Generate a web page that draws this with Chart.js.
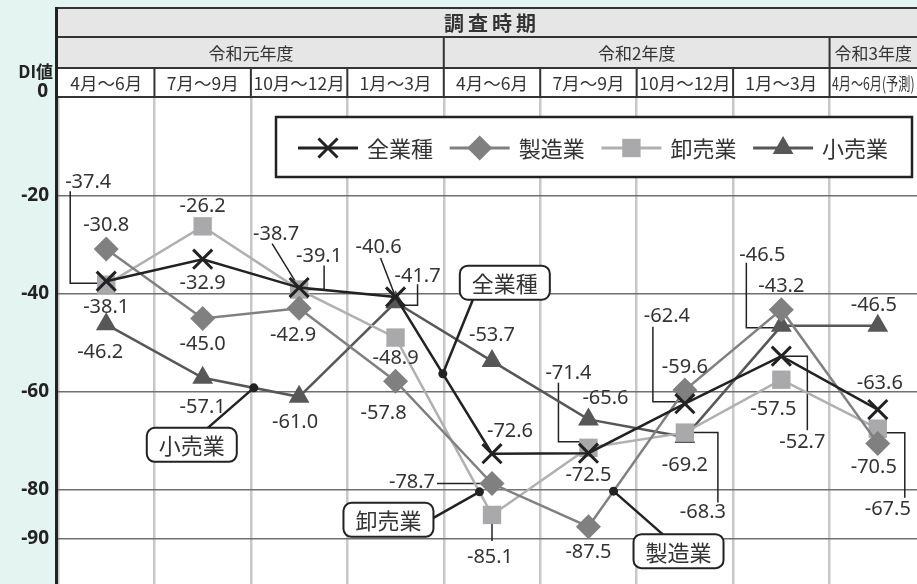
<!DOCTYPE html>
<html lang="ja">
<head>
<meta charset="utf-8">
<title>DI値の推移</title>
<script src="https://cdn.jsdelivr.net/npm/chart.js@4.4.0/dist/chart.umd.min.js"></script>
<style>
  html, body { margin: 0; padding: 0; background: #e3f4f1; overflow: hidden; }
  #mycanvas { display: block; width: 926px; height: 584px; }
</style>
</head>
<body>
<canvas id="mycanvas" width="926" height="584"></canvas>
<script>
// --- data ---
var quarters = ['4月～6月', '7月～9月', '10月～12月', '1月～3月', '4月～6月', '7月～9月', '10月～12月', '1月～3月', '4月～6月(予測)'];
var fiscalYears = ['令和元年度', '令和2年度', '令和3年度'];
var fiscalSpans = [4, 4, 1];
var headerTitle = '調査時期';
var seriesNames = ['全業種', '製造業', '卸売業', '小売業'];
var allIndustries = [-37.4, -32.9, -38.7, -40.6, -72.6, -72.5, -62.4, -52.7, -63.6];
var manufacturing = [-30.8, -45.0, -42.9, -57.8, -78.7, -87.5, -59.6, -43.2, -70.5];
var wholesale     = [-38.1, -26.2, -39.1, -48.9, -85.1, -71.4, -68.3, -57.5, -67.5];
var retail        = [-46.2, -57.1, -61.0, -41.7, -53.7, -65.6, -69.2, -46.5, -46.5];
var yTicks = [0, -20, -40, -60, -80, -90];

var JP = '"Noto Sans CJK JP", "Noto Sans", sans-serif';
var NUM = '"Noto Sans", "Noto Sans CJK JP", sans-serif';
var visibleRight = 917; // the window cuts the last column

// label placement: [series, index, dx, dy, leader polyline (offsets from the point)]
var labelLayout = [
  [0, 0, -18, -99, [[-36, -90], [-36, 2], [0, 2]]],
  [2, 0, 0, 23], [1, 0, 0, -24], [3, 0, -6, 28],
  [2, 1, 0, -20], [0, 1, 0, 24], [1, 1, 0, 26], [3, 1, 0, 30],
  [0, 2, -23, -53, [[-27, -44], [0, 0]]],
  [2, 2, 20, -33, [[25, -24], [25, 0], [0, 0]]],
  [1, 2, -6, 27], [3, 2, -4, 25],
  [0, 3, -17, -50, [[-15, -39], [0, 0]]],
  [3, 3, 22, -26, [[22, -18], [22, 3], [0, 3]]],
  [2, 3, 0, 21], [1, 3, -12, 32],
  [3, 4, 0, -26], [0, 4, 18, -22],
  [1, 4, -80, -1, [[-55, 0], [0, 0]]],
  [2, 4, -2, 42, [[0, 0], [0, 26]]],
  [2, 5, -20, -75, [[-30, -65], [-30, -6], [0, -6]]],
  [3, 5, 17, -21], [0, 5, 0, 22], [1, 5, 0, 26],
  [0, 6, -18, -87, [[-32, -77], [-32, -2], [0, -2]]],
  [1, 6, 0, -23], [3, 6, 0, 28],
  [2, 6, 18, 80, [[0, 0], [33, 0], [33, 70]]],
  [3, 7, -19, -71, [[-35, -63], [-35, 2], [0, 2]]],
  [1, 7, 0, -23],
  [0, 7, 21, 86, [[0, 0], [26, 0], [26, 74]]],
  [2, 7, -8, 30],
  [3, 8, -4, -21], [0, 8, 2, -26], [1, 8, -4, 24],
  [2, 8, 10, 81, [[0, 4], [27, 4], [27, 69]]]
];

// callouts: [series, index, fraction toward next point, box dx, box dy, leader end dx, dy (from box centre)]
var callouts = [
  [0, 3, 0.49, 62, -91, -32, 17],
  [3, 1, 0.53, -62, 57, 16, -17],
  [2, 3, 0.87, -91, 28, 45, -2],
  [1, 5, 0.26, 65, 60, -16, -17]
];

function drawMarker(c, style, x, y, r) {
  c.beginPath();
  if (style === 'crossRot') {
    var o = r * Math.SQRT1_2;
    c.moveTo(x - o, y - o); c.lineTo(x + o, y + o);
    c.moveTo(x - o, y + o); c.lineTo(x + o, y - o);
    c.stroke();
    return;
  }
  if (style === 'rectRot') {
    c.moveTo(x - r, y); c.lineTo(x, y - r); c.lineTo(x + r, y); c.lineTo(x, y + r);
  } else if (style === 'rect') {
    var s = r * Math.SQRT1_2;
    c.rect(x - s, y - s, 2 * s, 2 * s);
  } else if (style === 'triangle') {
    c.moveTo(x, y - r);
    c.lineTo(x + r * Math.sin(2 * Math.PI / 3), y - r * Math.cos(2 * Math.PI / 3));
    c.lineTo(x + r * Math.sin(4 * Math.PI / 3), y - r * Math.cos(4 * Math.PI / 3));
  }
  c.closePath();
  c.fill();
}

function pointPos(chart, s, i) {
  var p = chart.getDatasetMeta(s).data[i];
  return { x: p.x, y: p.y };
}

var decor = {
  id: 'decor',
  beforeDraw: function (chart) {
    var c = chart.ctx, a = chart.chartArea, xs = chart.scales.x;
    var n = quarters.length, colW = (a.right - a.left) / n;
    function edge(i) { return Math.min(xs.getPixelForValue(i - 0.5), visibleRight); }
    var r0 = 8, r1 = 37, r2 = 68, r3 = a.top - 1;
    c.save();
    c.fillStyle = '#e3f4f1';
    c.fillRect(0, 0, chart.width, chart.height);
    c.fillStyle = '#ffffff';
    c.fillRect(a.left, a.top, a.right - a.left, a.bottom - a.top);
    c.fillStyle = '#e6e6e6';
    c.fillRect(a.left, r0, a.right - a.left, r2 - r0);
    c.fillStyle = '#ffffff';
    c.fillRect(a.left, r2, a.right - a.left, r3 - r2);

    // title row
    c.fillStyle = '#333';
    c.textBaseline = 'middle';
    c.textAlign = 'center';
    c.font = 'bold 20px ' + JP;
    var mid = (a.left + a.right) / 2 - 2;
    for (var k = 0; k < headerTitle.length; k++) {
      c.fillText(headerTitle[k], mid + (k - 1.5) * 24, (r0 + r1) / 2 + 1);
    }
    // fiscal year row
    c.font = '17px ' + JP;
    var start = 0;
    for (var f = 0; f < fiscalYears.length; f++) {
      var l = edge(start), r = edge(start + fiscalSpans[f]);
      c.fillText(fiscalYears[f], (l + r) / 2, (r1 + r2) / 2 + 1, r - l - 4);
      start += fiscalSpans[f];
    }
    // quarter row
    c.font = '17.5px ' + JP;
    for (var q = 0; q < n; q++) {
      var ql = edge(q), qr = edge(q + 1);
      c.fillText(quarters[q], (ql + qr) / 2, (r2 + r3) / 2 + 1, Math.min(colW, qr - ql) - 5);
    }

    // borders
    c.strokeStyle = '#333';
    c.lineWidth = 2;
    c.beginPath();
    [r0, r1, r2, r3].forEach(function (yy) { c.moveTo(a.left - 2, yy); c.lineTo(a.right, yy); });
    for (var b = 1; b < n; b++) { c.moveTo(edge(b), r2); c.lineTo(edge(b), r3); }
    var acc = 0;
    for (var g = 0; g < fiscalSpans.length - 1; g++) {
      acc += fiscalSpans[g];
      c.moveTo(edge(acc), r1); c.lineTo(edge(acc), r2);
    }
    c.stroke();

    // axis title and zero label
    c.fillStyle = '#222';
    c.textAlign = 'right';
    c.font = 'bold 17px ' + JP;
    c.fillText('DI値', 53, 72);
    c.font = 'bold 19px ' + NUM;
    c.fillText('0', 48, 92);
    c.restore();
  },
  beforeDatasetsDraw: function (chart) {
    var c = chart.ctx;
    c.save();
    c.strokeStyle = '#222';
    c.lineWidth = 1.5;
    labelLayout.forEach(function (L) {
      if (!L[4]) return;
      var p = pointPos(chart, L[0], L[1]);
      c.beginPath();
      L[4].forEach(function (o, j) {
        if (j === 0) c.moveTo(p.x + o[0], p.y + o[1]); else c.lineTo(p.x + o[0], p.y + o[1]);
      });
      c.stroke();
    });
    c.restore();
  },
  afterDatasetsDraw: function (chart) {
    var c = chart.ctx, a = chart.chartArea;
    c.save();
    // value labels
    c.fillStyle = '#333';
    c.font = '20px ' + NUM;
    c.textAlign = 'center';
    c.textBaseline = 'middle';
    labelLayout.forEach(function (L) {
      var p = pointPos(chart, L[0], L[1]);
      var v = chart.data.datasets[L[0]].data[L[1]];
      c.fillText(v.toFixed(1), p.x + L[2], p.y + L[3]);
    });

    // callouts
    callouts.forEach(function (C) {
      var p0 = pointPos(chart, C[0], C[1]), p1 = pointPos(chart, C[0], C[1] + 1);
      var dx = p0.x + (p1.x - p0.x) * C[2], dy = p0.y + (p1.y - p0.y) * C[2];
      var bx = dx + C[3], by = dy + C[4];
      c.strokeStyle = '#222';
      c.lineWidth = 2.5;
      c.beginPath();
      c.moveTo(dx, dy); c.lineTo(bx + C[5], by + C[6]);
      c.stroke();
      c.fillStyle = '#222';
      c.beginPath(); c.arc(dx, dy, 4.5, 0, Math.PI * 2); c.fill();
      c.fillStyle = '#fff';
      c.lineWidth = 2;
      c.beginPath();
      c.roundRect(bx - 45, by - 17, 90, 34, 8);
      c.fill(); c.stroke();
      c.fillStyle = '#333';
      c.font = '22px ' + JP;
      c.fillText(seriesNames[C[0]], bx, by + 1);
    });

    // legend
    var lx0 = a.left + 218, ly = a.top + 50;
    c.fillStyle = '#fff';
    c.strokeStyle = '#222';
    c.lineWidth = 2.5;
    c.beginPath();
    c.rect(a.left + 218, a.top + 19, 636, 60);
    c.fill(); c.stroke();
    c.textAlign = 'left';
    c.font = '22px ' + JP;
    chart.data.datasets.forEach(function (ds, i) {
      var x0 = lx0 + 22 + i * 151.7;
      c.strokeStyle = ds.borderColor;
      c.lineWidth = 3;
      c.beginPath(); c.moveTo(x0, ly); c.lineTo(x0 + 60, ly); c.stroke();
      c.fillStyle = ds.pointBackgroundColor;
      c.lineWidth = ds.pointBorderWidth;
      drawMarker(c, ds.pointStyle, x0 + 30, ly, ds.pointRadius);
      c.fillStyle = '#333';
      c.fillText(ds.label, x0 + 69, ly + 1);
    });

    // left axis line
    c.strokeStyle = '#222';
    c.lineWidth = 3;
    c.beginPath();
    c.moveTo(a.left - 1.5, 7); c.lineTo(a.left - 1.5, chart.height);
    c.stroke();
    c.restore();
  }
};

var ctx = document.getElementById('mycanvas');
var chart = new Chart(ctx, {
  type: 'line',
  data: {
    labels: quarters,
    datasets: [
      { label: seriesNames[0], data: allIndustries, borderColor: '#222', borderWidth: 2.5,
        pointStyle: 'crossRot', pointRadius: 13.5, pointBorderWidth: 3,
        pointBorderColor: '#222', pointBackgroundColor: '#222' },
      { label: seriesNames[1], data: manufacturing, borderColor: '#808080', borderWidth: 2.5,
        pointStyle: 'rectRot', pointRadius: 12.5, pointBorderWidth: 0,
        pointBorderColor: '#808080', pointBackgroundColor: '#808080' },
      { label: seriesNames[2], data: wholesale, borderColor: '#b0b0b2', borderWidth: 2.5,
        pointStyle: 'rect', pointRadius: 13, pointBorderWidth: 0,
        pointBorderColor: '#a9a9ab', pointBackgroundColor: '#a9a9ab' },
      { label: seriesNames[3], data: retail, borderColor: '#575757', borderWidth: 2.5,
        pointStyle: 'triangle', pointRadius: 12, pointBorderWidth: 0,
        pointBorderColor: '#575757', pointBackgroundColor: '#575757' }
    ]
  },
  options: {
    responsive: false,
    devicePixelRatio: 1,
    animation: false,
    layout: { autoPadding: false, padding: { top: 98, left: 0, right: 0, bottom: 0 } },
    elements: { line: { tension: 0 } },
    plugins: { legend: { display: false }, tooltip: { enabled: false } },
    scales: {
      x: {
        offset: true,
        afterFit: function (s) { s.height = 0; s.paddingLeft = 0; s.paddingRight = 0; },
        grid: { offset: true, color: '#c8c8c8', lineWidth: 2.5, drawTicks: false },
        border: { display: false },
        ticks: { display: false }
      },
      y: {
        min: -99.2,
        max: 0,
        afterBuildTicks: function (s) { s.ticks = yTicks.map(function (v) { return { value: v }; }); },
        afterFit: function (s) { s.width = 58; s.paddingTop = 0; s.paddingBottom = 0; },
        grid: {
          color: function (g) { return g.tick && g.tick.value === 0 ? 'rgba(0,0,0,0)' : '#707070'; },
          lineWidth: 1.5,
          drawTicks: false
        },
        border: { display: false },
        ticks: {
          padding: 9,
          color: '#222',
          font: { size: 19, weight: 'bold', family: NUM },
          callback: function (v) { return v === 0 ? '' : String(v); }
        }
      }
    }
  },
  plugins: [decor]
});
</script>
</body>
</html>
